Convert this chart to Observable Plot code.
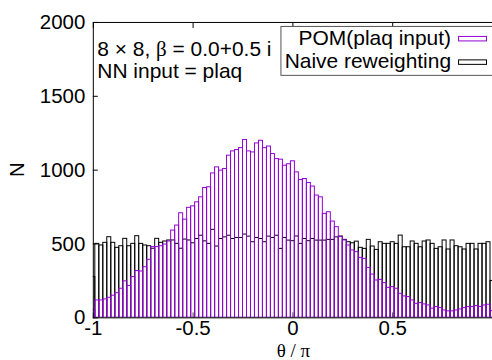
<!DOCTYPE html>
<html><head><meta charset="utf-8">
<script src="https://cdn.jsdelivr.net/npm/d3@7"></script>
<script src="https://cdn.jsdelivr.net/npm/@observablehq/plot@0.6"></script>
<style>
html,body{margin:0;padding:0;background:#fff;overflow:hidden;}
#chart svg{display:block;}
</style></head><body><div id="chart"></div>
<script>
// Histogram bins: centres at binStart + k*binWidth (edge bins are half bins)
const binStart = -1, binWidth = 0.02;
const pom = [51,118,118,125,136,150,167,197,247,216,276,317,314,343,393,479,479,485,496,517,
  591,625,708,665,745,755,782,816,879,884,978,1019,997,1008,1098,1127,1136,1149,1204,1127,
  1120,1181,1199,1149,1160,1109,1075,1071,1030,1040,1060,985,933,940,913,889,828,816,704,715,
  652,614,547,524,490,456,445,406,399,338,293,253,257,235,203,208,197,163,145,141,
  118,95,100,91,84,62,73,66,50,44,44,50,57,66,73,73,80,73,84,89,45];
const naive = [276,501,490,508,546,508,474,485,535,485,501,553,501,490,485,468,535,508,517,524,
  524,501,468,530,524,505,534,556,518,501,596,483,534,545,556,534,541,541,564,550,
  512,541,534,512,550,541,556,467,541,523,519,551,501,534,519,534,523,523,523,528,
  528,545,551,528,512,505,516,474,467,528,483,460,512,501,501,512,501,557,478,478,
  517,501,478,517,524,501,467,478,524,463,524,485,478,463,501,501,463,501,501,512,250];
const xTicks = [-1, -0.5, 0, 0.5, 1];
const xTickLabels = ["-1", "-0.5", "0", "0.5", ""];
const yTicks = [0, 500, 1000, 1500, 2000];
const seriesNames = ["POM(plaq input)", "Naive reweighting"];
const seriesColors = ["#9400d3", "#000000"];
const annotation = ["8 \u00d7 8, ", "\u03b2", " = 0.0+0.5 i"];
const annotation2 = "NN input = plaq";

const rows = (vals) => vals.map((v, i) => ({
  x1: binStart + (i - 0.5) * binWidth,
  x2: binStart + (i + 0.5) * binWidth,
  y: v
}));

const sans = "'Liberation Sans', Arial, sans-serif";
const serif = "'Liberation Serif', 'DejaVu Serif', serif";

const plot = Plot.plot({
  width: 493, height: 360,
  marginLeft: 93, marginRight: 0, marginTop: 22, marginBottom: 42,
  style: {fontFamily: sans, fontSize: "20.5px", background: "white", overflow: "visible", color: "black"},
  x: {domain: [-1, 1]},
  y: {domain: [0, 2000]},
  marks: [
    Plot.axisX(xTicks, {anchor: "bottom", tickSize: -5, tickPadding: 8, tickFormat: (d) => xTickLabels[xTicks.indexOf(d)], label: null, stroke: "#444"}),
    Plot.axisX(xTicks, {anchor: "top", tickSize: -5, tickFormat: () => "", label: null}),
    Plot.axisY(yTicks, {anchor: "left", tickSize: -5, tickPadding: 13, tickFormat: d => String(d), label: null}),
    Plot.rectY(rows(naive), {x1: "x1", x2: "x2", y: "y", fill: "none", stroke: seriesColors[1], strokeWidth: 1, clip: true}),
    Plot.rectY(rows(pom), {x1: "x1", x2: "x2", y: "y", fill: "none", stroke: seriesColors[0], strokeWidth: 1, clip: true}),
    Plot.frame({stroke: "black"})
  ]
});
document.getElementById("chart").appendChild(plot);

const svg = d3.select(plot);
// annotation
const t1 = svg.append("text").attr("x", 97.5).attr("y", 56.5).attr("text-anchor", "start")
  .style("font-family", sans).style("font-size", "21px");
t1.append("tspan").text(annotation[0]);
t1.append("tspan").style("font-family", serif).text(annotation[1]);
t1.append("tspan").text(annotation[2]);
svg.append("text").attr("x", 97.5).attr("y", 78.5).attr("text-anchor", "start")
  .style("font-family", sans).style("font-size", "21px").text(annotation2);

// legend
const lg = svg.append("g");
lg.append("rect").attr("x", 281.5).attr("y", 26.5).attr("width", 230).attr("height", 49)
  .attr("fill", "white").attr("stroke", "#555").attr("stroke-width", 1);
seriesNames.forEach((name, i) => {
  const by = 45 + i * 23.5;
  lg.append("text").attr("x", 452).attr("y", by).attr("text-anchor", "end")
    .style("font-family", sans).style("font-size", "21px").text(name);
  lg.append("rect").attr("x", 459.5).attr("y", by - 8.5).attr("width", 28).attr("height", 4.5)
    .attr("fill", "none").attr("stroke", seriesColors[i]).attr("stroke-width", 1);
});

// axis titles
svg.append("text").attr("transform", "translate(24,170) rotate(-90)").attr("text-anchor", "middle")
  .style("font-family", sans).style("font-size", "20.5px").text("N");
svg.append("text").attr("x", 294).attr("y", 357.5).attr("text-anchor", "middle")
  .style("font-family", serif).style("font-size", "19px").text("\u03b8 / \u03c0");
</script></body></html>
